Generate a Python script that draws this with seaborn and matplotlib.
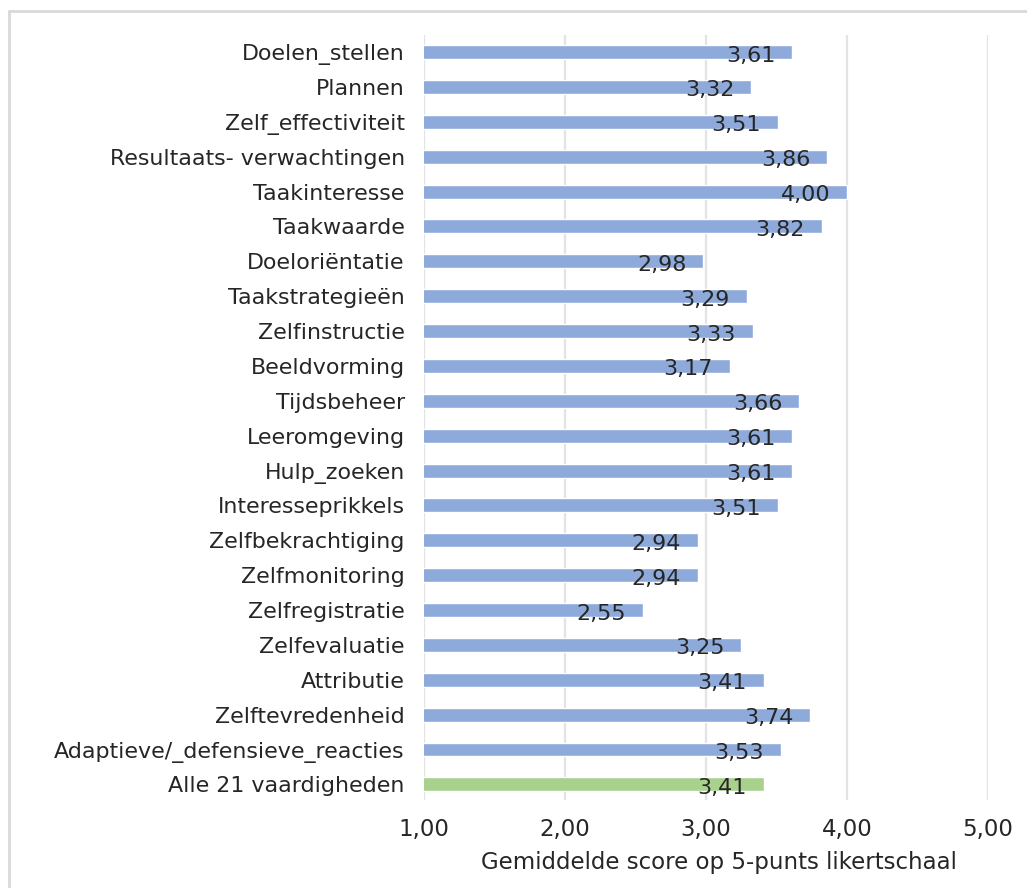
import matplotlib
matplotlib.use('Agg')
import matplotlib.pyplot as plt
from matplotlib.lines import Line2D
from matplotlib.ticker import FuncFormatter
import seaborn as sns

# Data
vaardigheden = [
    'Doelen_stellen', 'Plannen', 'Zelf_effectiviteit', 'Resultaats- verwachtingen',
    'Taakinteresse', 'Taakwaarde', 'Doeloriëntatie', 'Taakstrategieën',
    'Zelfinstructie', 'Beeldvorming', 'Tijdsbeheer', 'Leeromgeving',
    'Hulp_zoeken', 'Interesseprikkels', 'Zelfbekrachtiging', 'Zelfmonitoring',
    'Zelfregistratie', 'Zelfevaluatie', 'Attributie', 'Zelftevredenheid',
    'Adaptieve/_defensieve_reacties', 'Alle 21 vaardigheden',
]
scores = [3.61, 3.32, 3.51, 3.86, 4.00, 3.82, 2.98, 3.29, 3.33, 3.17, 3.66,
          3.61, 3.61, 3.51, 2.94, 2.94, 2.55, 3.25, 3.41, 3.74, 3.53, 3.41]
x_ticks = [1, 2, 3, 4, 5]

BLUE = '#8eaadb'
GREEN = '#a9d18e'
TEXT = '#262626'

sns.set_theme(style='white')
plt.rcParams['font.family'] = ['DejaVu Sans']

colors = [GREEN if v == 'Alle 21 vaardigheden' else BLUE for v in vaardigheden]

fig = plt.figure(figsize=(10.27, 8.88), dpi=100)
ax = fig.add_axes([0.413, 0.099, 0.549, 0.862])

sns.barplot(x=scores, y=vaardigheden, hue=vaardigheden, palette=colors,
            legend=False, orient='h', width=0.4, saturation=1, ax=ax)

ax.set_xlim(1, 5)
ax.set_ylim(21.45, -0.5)
ax.set_xticks(x_ticks)
ax.xaxis.set_major_formatter(FuncFormatter(lambda v, p: f'{v:.2f}'.replace('.', ',')))
ax.grid(axis='x', color='#e3e3e3', linewidth=1.6)
ax.set_axisbelow(True)
for s in ax.spines.values():
    s.set_visible(False)
ax.tick_params(axis='y', length=0, labelsize=15.9, colors=TEXT, pad=14)
ax.tick_params(axis='x', length=0, labelsize=16.5, colors=TEXT, pad=13)
ax.set_ylabel('')
ax.set_xlabel('Gemiddelde score op 5-punts likertschaal', fontsize=16.5,
              color=TEXT, labelpad=7)
ax.xaxis.label.set_x(0.523)

# value labels at the bar ends
for i, v in enumerate(scores):
    ax.text(v - 0.12, i + 0.1, f'{v:.2f}'.replace('.', ','), ha='right', va='center',
            fontsize=16, color=TEXT)

# light frame round the chart area
fig.add_artist(Line2D([0.009, 0.009], [0, 0.988], color='#d9d9d9', linewidth=2))
fig.add_artist(Line2D([0.009, 1], [0.988, 0.988], color='#d9d9d9', linewidth=2))

fig.savefig('out.png', dpi=100, facecolor='white')
